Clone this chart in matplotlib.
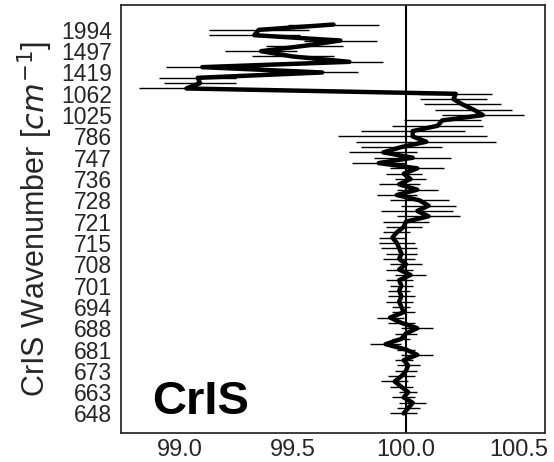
import numpy as np
import matplotlib
matplotlib.use('Agg')
import matplotlib.pyplot as plt
import seaborn as sns

sns.set_style('white')
plt.rcParams['font.family'] = ['Liberation Sans', 'DejaVu Sans']

# ratio (%) per channel, bottom (648 cm-1) to top
ratio = [99.99, 100.01, 100.03, 99.99, 100.01, 99.98, 99.95, 99.98, 100.00, 100.01,
         99.99, 100.05, 100.00, 99.91, 99.98, 100.00, 100.05, 99.98, 99.93, 99.99,
         99.98, 99.97, 99.98, 99.97, 99.98, 99.97, 100.02, 99.97, 100.00, 99.97,
         99.98, 99.97, 99.96, 99.94, 99.96, 99.99, 100.00, 100.10, 100.05, 100.10,
         100.06, 99.96, 100.05, 99.97, 100.02, 99.99, 100.05, 99.88, 100.03, 99.90,
         99.98, 100.09, 100.03, 100.03, 100.14, 100.16, 100.34, 100.30, 100.25, 100.21,
         100.22, 99.03, 99.09, 99.08, 99.63, 99.10, 99.75, 99.50, 99.36, 99.55,
         99.71, 99.33, 99.35, 99.68]
# half-width of the spread
spread = [0.06, 0.05, 0.06, 0.05, 0.04, 0.05, 0.06, 0.06, 0.05, 0.05,
          0.04, 0.07, 0.04, 0.07, 0.04, 0.05, 0.07, 0.06, 0.06, 0.05,
          0.04, 0.06, 0.06, 0.05, 0.05, 0.06, 0.07, 0.06, 0.07, 0.07,
          0.07, 0.08, 0.08, 0.06, 0.06, 0.08, 0.10, 0.14, 0.16, 0.12,
          0.13, 0.09, 0.09, 0.09, 0.07, 0.08, 0.12, 0.12, 0.17, 0.15,
          0.18, 0.31, 0.33, 0.23, 0.20, 0.17, 0.18, 0.17, 0.17, 0.15,
          0.16, 0.21, 0.16, 0.17, 0.16, 0.16, 0.15, 0.18, 0.16, 0.17,
          0.16, 0.20, 0.22, 0.20]
wavenumbers = ['648', '663', '673', '681', '688', '694', '701', '708', '715', '721',
               '728', '736', '747', '786', '1025', '1062', '1419', '1497', '1994']

chan = np.arange(len(ratio))

fig = plt.figure(figsize=(5.54, 4.62), dpi=100)
ax = fig.add_axes([0.218, 0.063, 0.766, 0.926])

ax.errorbar(ratio, chan, xerr=spread, fmt='none', ecolor='black', elinewidth=1.0)
ax.plot(ratio, chan, color='black', lw=3.2)
ax.axvline(100, color='black', lw=1.5)

ax.set_yticks(chan[::4])
ax.set_yticklabels(wavenumbers)
ax.set_xticks([99.0, 99.5, 100.0, 100.5])
ax.set_xlim(98.74, 100.615)
ax.tick_params(axis='y', labelsize=16.5, pad=3)
ax.tick_params(axis='x', labelsize=17, pad=1)
ax.set_ylabel(r'CrIS Wavenumber [$cm^{-1}$]', fontsize=22, labelpad=4)

ax.text(0.075, 0.044, 'CrIS', transform=ax.transAxes, fontsize=34,
        fontweight='bold', color='black')

for s in ax.spines.values():
    s.set_linewidth(1.25)

fig.savefig('out.png', dpi=100)
